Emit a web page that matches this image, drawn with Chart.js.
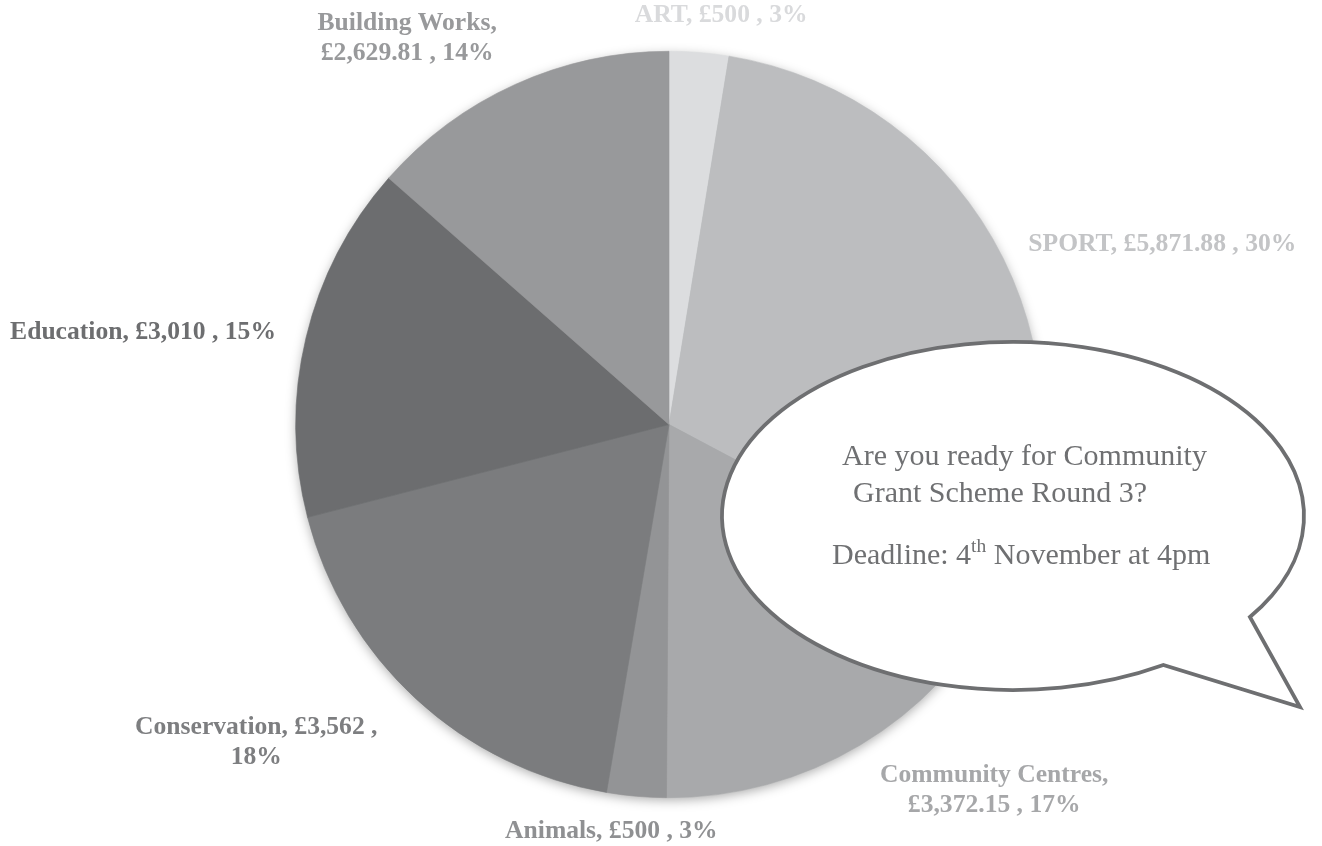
<!DOCTYPE html>
<html><head><meta charset="utf-8">
<script src="https://cdn.jsdelivr.net/npm/chart.js@4.4.0/dist/chart.umd.min.js"></script>
<style>html,body{margin:0;padding:0;background:#fff;overflow:hidden}#wrap{width:1322px;height:846px;position:relative}</style>
</head><body><div id="wrap"><canvas id="c" width="1322" height="846"></canvas></div>
<script>
// ---- data ----
const categories = ['ART', 'SPORT', 'Community Centres', 'Animals', 'Conservation', 'Education', 'Building Works'];
const amounts = [500, 5871.88, 3372.15, 500, 3562, 3010, 2629.81];
const sliceColors = ['#dcdddf', '#bcbdbf', '#a8a9ab', '#939496', '#7b7c7e', '#6c6d6f', '#98999b'];
const labelColors = ['#d9dadc', '#c3c4c6', '#a6a7a9', '#8f9092', '#7d7e80', '#6d6e70', '#98999b'];
// label layout: offset of label centre from the slice's outer mid point, and line wrapping
// wrap: 0 = one line, 1 = break after category, 2 = break before percentage
const labelLayout = [
  {dx: 22, dy: -37, wrap: 0},
  {dx: 159, dy: -14, wrap: 0},
  {dx: 134, dy: 45, wrap: 1},
  {dx: -25, dy: 35, wrap: 0},
  {dx: -160, dy: 43, wrap: 2},
  {dx: -163, dy: -5, wrap: 0},
  {dx: -108, dy: -46, wrap: 1}
];
const bubbleLines = ['Are you ready for Community', 'Grant Scheme Round 3?'];
const deadline = ['Deadline: 4', 'th', ' November at 4pm'];

const total = amounts.reduce((a, b) => a + b, 0);
const fmtMoney = v => '£' + v.toLocaleString('en-GB', {maximumFractionDigits: 2});
const fmtPct = v => Math.round(v / total * 100) + '%';

const SERIF = "'Liberation Serif', 'Times New Roman', serif";

function fitSize(ctx, weight, text, target) {
  ctx.font = weight + ' 100px ' + SERIF;
  return 100 * target / ctx.measureText(text).width;
}

const shadowPlugin = {
  id: 'pieShadow',
  beforeDatasetsDraw(chart) {
    const arc = chart.getDatasetMeta(0).data[0];
    if (!arc) return;
    const ctx = chart.ctx;
    ctx.save();
    ctx.shadowColor = 'rgba(0,0,0,0.35)';
    ctx.shadowBlur = 12;
    ctx.shadowOffsetY = 3;
    ctx.fillStyle = '#9a9b9d';
    ctx.beginPath();
    ctx.arc(arc.x, arc.y, arc.outerRadius - 1, 0, Math.PI * 2);
    ctx.fill();
    ctx.restore();
  }
};

const labelPlugin = {
  id: 'sliceLabels',
  afterDatasetsDraw(chart) {
    const ctx = chart.ctx;
    const meta = chart.getDatasetMeta(0);
    const size = fitSize(ctx, 'bold', 'Education, £3,010 , 15%', 266);
    const lh = size * 1.17;
    ctx.save();
    ctx.font = 'bold ' + size.toFixed(2) + 'px ' + SERIF;
    ctx.textAlign = 'center';
    ctx.textBaseline = 'middle';
    meta.data.forEach((arc, i) => {
      const mid = (arc.startAngle + arc.endAngle) / 2;
      const px = arc.x + Math.cos(mid) * arc.outerRadius + labelLayout[i].dx;
      const py = arc.y + Math.sin(mid) * arc.outerRadius + labelLayout[i].dy;
      const cat = categories[i] + ',';
      const money = fmtMoney(amounts[i]);
      const pct = fmtPct(amounts[i]);
      let lines;
      if (labelLayout[i].wrap === 1) lines = [cat, money + ' , ' + pct];
      else if (labelLayout[i].wrap === 2) lines = [cat + ' ' + money + ' ,', pct];
      else lines = [cat + ' ' + money + ' , ' + pct];
      ctx.fillStyle = labelColors[i];
      const y0 = py - (lines.length - 1) * lh / 2;
      lines.forEach((t, k) => ctx.fillText(t, px, y0 + k * lh));
    });
    ctx.restore();
  }
};

const bubblePlugin = {
  id: 'speechBubble',
  afterDraw(chart) {
    const ctx = chart.ctx;
    const cx = 1013, cy = 516, rx = 291, ry = 174;
    const tA = 58.9 * Math.PI / 180, tB = 35.5 * Math.PI / 180;
    const tip = {x: 1300, y: 707};
    ctx.save();
    ctx.beginPath();
    ctx.ellipse(cx, cy, rx, ry, 0, tA, tB + Math.PI * 2, false);
    ctx.lineTo(tip.x, tip.y);
    ctx.closePath();
    ctx.fillStyle = '#ffffff';
    ctx.fill();
    ctx.lineWidth = 3.8;
    ctx.lineJoin = 'miter';
    ctx.strokeStyle = '#6e6f71';
    ctx.stroke();

    const size = fitSize(ctx, 'normal', bubbleLines[0], 365);
    ctx.font = size.toFixed(2) + 'px ' + SERIF;
    ctx.fillStyle = '#6f7072';
    ctx.textAlign = 'left';
    ctx.textBaseline = 'middle';
    ctx.fillText(bubbleLines[0], 842, 457);
    ctx.fillText(bubbleLines[1], 853, 494);
    let x = 832;
    const y3 = 556;
    ctx.fillText(deadline[0], x, y3);
    x += ctx.measureText(deadline[0]).width;
    ctx.font = (size * 0.65).toFixed(2) + 'px ' + SERIF;
    ctx.fillText(deadline[1], x, y3 - size * 0.3);
    x += ctx.measureText(deadline[1]).width;
    ctx.font = size.toFixed(2) + 'px ' + SERIF;
    ctx.fillText(deadline[2], x, y3);
    ctx.restore();
  }
};

new Chart(document.getElementById('c'), {
  type: 'pie',
  data: {
    labels: categories,
    datasets: [{data: amounts, backgroundColor: sliceColors, borderColor: sliceColors, borderWidth: 0.6}]
  },
  options: {
    responsive: false,
    animation: false,
    layout: {padding: {left: 16, right: 0, top: 51, bottom: 48}},
    plugins: {legend: {display: false}, tooltip: {enabled: false}}
  },
  plugins: [shadowPlugin, labelPlugin, bubblePlugin]
});
</script>
</body></html>
